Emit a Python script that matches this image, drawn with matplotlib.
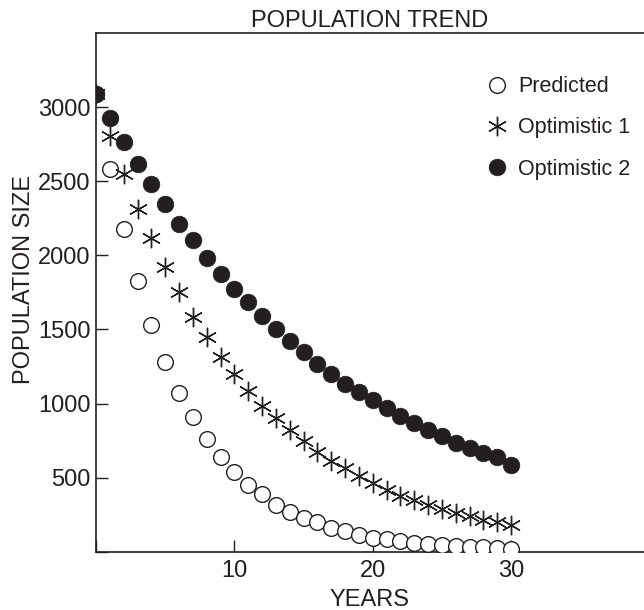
import matplotlib
matplotlib.use("Agg")
import matplotlib.pyplot as plt

plt.rcParams['font.family'] = ['Liberation Sans', 'DejaVu Sans']

years = list(range(0, 31))
predicted = [3090, 2585, 2175, 1826, 1530, 1283, 1074, 908, 760, 639, 540,
             453, 386, 318, 271, 226, 198, 163, 139, 116, 95,
             83, 71, 60, 49, 42, 38, 34, 30, 25, 20]
optimistic1 = [3090, 2808, 2550, 2315, 2120, 1922, 1754, 1585, 1447, 1312, 1200,
               1087, 982, 902, 823, 744, 672, 614, 565, 509, 464,
               419, 379, 350, 312, 289, 262, 240, 217, 199, 178]
optimistic2 = [3090, 2927, 2763, 2613, 2478, 2348, 2209, 2101, 1985, 1873, 1770,
               1682, 1592, 1503, 1424, 1346, 1267, 1200, 1133, 1077, 1022,
               969, 913, 868, 823, 778, 733, 700, 666, 639, 585]
series_labels = ['Predicted', 'Optimistic 1', 'Optimistic 2']
xticks = [0, 10, 20, 30]
xticklabels = ['', '10', '20', '30']
yticks = [0, 500, 1000, 1500, 2000, 2500, 3000]
yticklabels = ['', '500', '1000', '1500', '2000', '2500', '3000']

ink = '#231f20'
fig = plt.figure(figsize=(6.44, 6.10), dpi=100)
ax = fig.add_axes([96/644, 1 - 551.7/610, 1 - 96/644, (551.7 - 33)/610])

ax.plot(years, predicted, linestyle='none', marker='o', ms=11.3,
        mfc='white', mec=ink, mew=1.0, label=series_labels[0], zorder=3)
ax.plot(years, optimistic1, linestyle='none', marker=(6, 2, 0), ms=14,
        mec=ink, mew=1.0, label=series_labels[1], zorder=3)
ax.plot(years, optimistic2, linestyle='none', marker='o', ms=12,
        mfc=ink, mec=ink, mew=0.5, label=series_labels[2], zorder=3)

ax.set_xlim(0, 39.6)
ax.set_ylim(0, 3500)
ax.set_xticks(xticks)
ax.set_xticklabels(xticklabels)
ax.set_yticks(yticks)
ax.set_yticklabels(yticklabels)
ax.tick_params(direction='in', length=8.5, width=1.0, color=ink,
               labelsize=17, labelcolor=ink)
ax.tick_params(axis='x', pad=6)
ax.tick_params(axis='y', pad=4)
for s in ['left', 'bottom', 'top']:
    ax.spines[s].set_linewidth(1.2)
    ax.spines[s].set_color(ink)
ax.spines['right'].set_visible(False)

ax.set_title('POPULATION TREND', fontsize=17, color=ink, pad=4)
ax.set_xlabel('YEARS', fontsize=17, color=ink, labelpad=5)
ax.set_ylabel('POPULATION SIZE', fontsize=17, color=ink)
ax.yaxis.set_label_coords(-0.112, 0.524)

leg = ax.legend(loc='upper left', bbox_to_anchor=(0.712, 0.917), frameon=False,
                borderaxespad=0, borderpad=0, handlelength=1.0,
                handletextpad=0.48, labelspacing=0.94, fontsize=15.5,
                labelcolor=ink)

fig.savefig('out.png', dpi=100)
